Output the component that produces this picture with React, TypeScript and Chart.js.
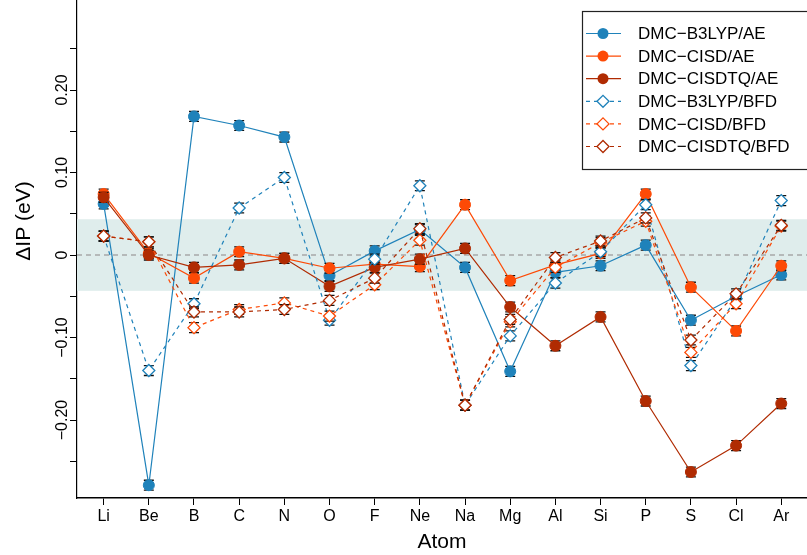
import React, { useEffect, useRef } from 'react';
import { Chart, registerables } from 'chart.js';

Chart.register(...registerables);

const ATOMS = ['Li', 'Be', 'B', 'C', 'N', 'O', 'F', 'Ne', 'Na', 'Mg', 'Al', 'Si', 'P', 'S', 'Cl', 'Ar'];

const B3LYP_AE = [0.062, -0.279, 0.168, 0.157, 0.143, -0.025, 0.005, 0.031, -0.015, -0.141, -0.021, -0.013, 0.012, -0.079, -0.050, -0.024];
const CISD_AE = [0.074, 0.002, -0.028, 0.004, -0.004, -0.016, -0.011, -0.014, 0.061, -0.031, -0.012, 0.002, 0.074, -0.039, -0.092, -0.013];
const CISDTQ_AE = [0.070, 0.000, -0.015, -0.012, -0.004, -0.038, -0.015, -0.005, 0.008, -0.063, -0.110, -0.075, -0.177, -0.263, -0.231, -0.180];
const B3LYP_BFD = [0.023, -0.140, -0.059, 0.057, 0.094, -0.079, -0.005, 0.084, -0.182, -0.098, -0.034, 0.004, 0.061, -0.134, -0.053, 0.066];
const CISD_BFD = [0.023, 0.016, -0.088, -0.066, -0.058, -0.074, -0.036, 0.018, -0.182, -0.081, -0.015, 0.015, 0.041, -0.118, -0.059, 0.035];
const CISDTQ_BFD = [0.023, 0.016, -0.069, -0.069, -0.066, -0.055, -0.028, 0.032, -0.182, -0.078, -0.003, 0.017, 0.045, -0.103, -0.047, 0.036];

const ERR_AE = 0.006;
const ERR_BFD = 0.006;

const Y_TICKS = [-0.25, -0.2, -0.15, -0.1, -0.05, 0, 0.05, 0.1, 0.15, 0.2, 0.25];
const Y_LABEL_VALUES = [0.2, 0.1, 0, -0.1, -0.2];
const Y_LABEL_TEXTS = ['0.20', '0.10', '0', '\u22120.10', '\u22120.20'];
const CHEM_ACCURACY = 0.0434;

const BLUE = '#1f82ba';
const ORANGE = '#fd4a06';
const DARK = '#b02b02';
const FONT = 'Liberation Sans, Arial, sans-serif';

const SERIES = [
  { label: 'DMC\u2212B3LYP/AE', data: B3LYP_AE, color: BLUE, bfd: false, err: ERR_AE },
  { label: 'DMC\u2212CISD/AE', data: CISD_AE, color: ORANGE, bfd: false, err: ERR_AE },
  { label: 'DMC\u2212CISDTQ/AE', data: CISDTQ_AE, color: DARK, bfd: false, err: ERR_AE },
  { label: 'DMC\u2212B3LYP/BFD', data: B3LYP_BFD, color: BLUE, bfd: true, err: ERR_BFD },
  { label: 'DMC\u2212CISD/BFD', data: CISD_BFD, color: ORANGE, bfd: true, err: ERR_BFD },
  { label: 'DMC\u2212CISDTQ/BFD', data: CISDTQ_BFD, color: DARK, bfd: true, err: ERR_BFD },
];

const SHIFT = 56; // plot region continues above the visible picture

const bandPlugin = {
  id: 'band',
  beforeDatasetsDraw(chart: any) {
    const { ctx, chartArea, scales } = chart;
    const y = scales.y;
    const top = y.getPixelForValue(CHEM_ACCURACY);
    const bot = y.getPixelForValue(-CHEM_ACCURACY);
    ctx.save();
    ctx.fillStyle = '#dfedec';
    ctx.fillRect(chartArea.left, top, chartArea.right - chartArea.left, bot - top);
    const z = y.getPixelForValue(0);
    ctx.strokeStyle = '#a8a8a8';
    ctx.lineWidth = 1.6;
    ctx.setLineDash([5, 4]);
    ctx.beginPath();
    ctx.moveTo(chartArea.left, z);
    ctx.lineTo(chartArea.right, z);
    ctx.stroke();
    ctx.restore();
  },
};

const errorPlugin = {
  id: 'errbars',
  beforeDatasetDraw(chart: any, args: any) {
    const s = SERIES[args.index];
    const meta = args.meta;
    const { ctx, scales } = chart;
    ctx.save();
    ctx.strokeStyle = '#111';
    ctx.lineWidth = 1.3;
    meta.data.forEach((el: any, i: number) => {
      const v = s.data[i];
      const y1 = scales.y.getPixelForValue(v + s.err);
      const y2 = scales.y.getPixelForValue(v - s.err);
      const x = el.x;
      ctx.beginPath();
      ctx.moveTo(x, y1);
      ctx.lineTo(x, y2);
      ctx.moveTo(x - 5, y1);
      ctx.lineTo(x + 5, y1);
      ctx.moveTo(x - 5, y2);
      ctx.lineTo(x + 5, y2);
      ctx.stroke();
    });
    ctx.restore();
  },
};

const yLabelPlugin = {
  id: 'ylabels',
  afterDraw(chart: any) {
    const { ctx, scales } = chart;
    ctx.save();
    ctx.fillStyle = '#000';
    ctx.font = `16px ${FONT}`;
    ctx.textAlign = 'center';
    ctx.textBaseline = 'alphabetic';
    Y_LABEL_VALUES.forEach((v, i) => {
      const py = scales.y.getPixelForValue(v);
      ctx.save();
      ctx.translate(67, py);
      ctx.rotate(-Math.PI / 2);
      ctx.fillText(Y_LABEL_TEXTS[i], 0, 0);
      ctx.restore();
    });
    ctx.restore();
  },
};

const legendPlugin = {
  id: 'customLegend',
  afterDraw(chart: any) {
    const { ctx } = chart;
    ctx.save();
    const left = 582;
    const top = 11 + SHIFT;
    const bottom = 169 + SHIFT;
    ctx.fillStyle = '#fff';
    ctx.fillRect(left, top, 260, bottom - top);
    ctx.strokeStyle = '#222';
    ctx.lineWidth = 1.2;
    ctx.strokeRect(left + 0.5, top + 0.5, 260, bottom - top);
    SERIES.forEach((s, i) => {
      const y = 33.5 + SHIFT + i * 22.6;
      ctx.strokeStyle = s.color;
      ctx.lineWidth = 1.2;
      ctx.setLineDash(s.bfd ? [4, 4] : []);
      ctx.beginPath();
      ctx.moveTo(586, y);
      ctx.lineTo(621, y);
      ctx.stroke();
      ctx.setLineDash([]);
      if (s.bfd) {
        ctx.fillStyle = '#fff';
        ctx.lineWidth = 1.3;
        ctx.beginPath();
        ctx.moveTo(603 - 6, y);
        ctx.lineTo(603, y - 6);
        ctx.lineTo(603 + 6, y);
        ctx.lineTo(603, y + 6);
        ctx.closePath();
        ctx.fill();
        ctx.stroke();
      } else {
        ctx.fillStyle = s.color;
        ctx.beginPath();
        ctx.arc(603, y, 5.5, 0, Math.PI * 2);
        ctx.fill();
      }
      ctx.fillStyle = '#000';
      ctx.font = `17px ${FONT}`;
      ctx.textAlign = 'left';
      ctx.textBaseline = 'middle';
      ctx.fillText(s.label, 638, y + 1);
    });
    ctx.restore();
  },
};

export default function App() {
  const ref = useRef<HTMLCanvasElement>(null);

  useEffect(() => {
    if (!ref.current) return;
    const chart = new Chart(ref.current, {
      type: 'line',
      data: {
        datasets: SERIES.map((s, i) => ({
          label: s.label,
          data: s.data.map((y, x) => ({ x, y })),
          borderColor: s.color,
          backgroundColor: s.bfd ? '#ffffff' : s.color,
          pointBackgroundColor: s.bfd ? '#ffffff' : s.color,
          pointBorderColor: s.color,
          pointStyle: s.bfd ? 'rectRot' : 'circle',
          pointRadius: s.bfd ? 6 : 5.5,
          pointBorderWidth: s.bfd ? 1.3 : 1,
          borderWidth: 1.2,
          borderDash: s.bfd ? [4, 4] : [],
          tension: 0,
          fill: false,
          order: SERIES.length - i,
        })),
      },
      options: {
        responsive: false,
        animation: false,
        events: [],
        layout: { autoPadding: false, padding: 0 },
        plugins: { legend: { display: false }, tooltip: { enabled: false } },
        scales: {
          x: {
            type: 'linear',
            min: -0.59,
            max: 15.57,
            afterBuildTicks: (sc: any) => {
              sc.ticks = ATOMS.map((_, i) => ({ value: i }));
            },
            afterFit: (sc: any) => {
              sc.height = 57;
            },
            ticks: {
              autoSkip: false,
              maxRotation: 0,
              minRotation: 0,
              padding: 2,
              color: '#000',
              font: { family: FONT, size: 16 },
              callback: (v: any) => ATOMS[v] ?? '',
            },
            grid: { drawOnChartArea: false, drawTicks: true, tickLength: 7, color: '#000', tickColor: '#000' },
            border: { display: true, color: '#000', width: 1.5 },
            title: {
              display: true,
              text: 'Atom',
              color: '#000',
              font: { family: FONT, size: 21 },
              padding: { top: 0, bottom: 0 },
            },
          },
          y: {
            type: 'linear',
            min: -0.2945,
            max: 0.377,
            afterBuildTicks: (sc: any) => {
              sc.ticks = Y_TICKS.map((v) => ({ value: v }));
            },
            afterFit: (sc: any) => {
              sc.width = 77;
            },
            ticks: { display: false },
            grid: { drawOnChartArea: false, drawTicks: true, tickLength: 7, color: '#000', tickColor: '#000' },
            border: { display: true, color: '#000', width: 1.2 },
            title: {
              display: true,
              text: '\u0394IP (eV)',
              color: '#000',
              font: { family: FONT, size: 21 },
              padding: { top: 12, bottom: 0 },
            },
          },
        },
      },
      plugins: [bandPlugin, errorPlugin, yLabelPlugin, legendPlugin],
    } as any);
    return () => chart.destroy();
  }, []);

  return (
    <div style={{ position: 'fixed', left: 0, top: 0, width: 807, height: 555, overflow: 'hidden', background: '#fff' }}>
      <div style={{ position: 'absolute', left: 0, top: -SHIFT, width: 807, height: 555 + SHIFT }}>
        <canvas ref={ref} width={807} height={555 + SHIFT} style={{ display: 'block' }} />
      </div>
    </div>
  );
}
